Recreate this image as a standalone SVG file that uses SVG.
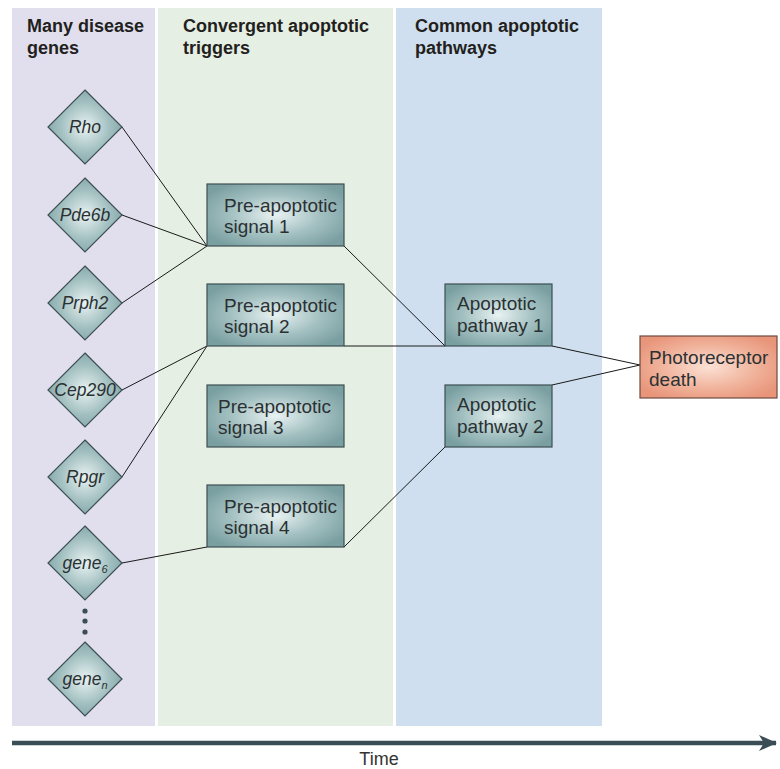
<svg xmlns="http://www.w3.org/2000/svg" width="780" height="769" viewBox="0 0 780 769">
<style>
.hdr{font-family:"Liberation Sans",Arial,sans-serif;font-weight:bold;font-size:18px;fill:#231f20}
.lbl{font-family:"Liberation Sans",Arial,sans-serif;font-size:19px;fill:#2b3133}
.gene{font-family:"Liberation Sans",Arial,sans-serif;font-style:italic;font-size:17.5px;fill:#2b3133;text-anchor:middle}
.node{fill:url(#teal);stroke:#3d4f52;stroke-width:1.2}
.death{fill:url(#salmon);stroke:#6e4a40;stroke-width:1.2}
.conn line{stroke:#1a1a1a;stroke-width:1}
</style>
<defs>
<radialGradient id="teal" cx="0.5" cy="0.5" r="0.6">
<stop offset="0" stop-color="#e9f2f2"/>
<stop offset="0.55" stop-color="#a3c0c1"/>
<stop offset="1" stop-color="#7a9fa1"/>
</radialGradient>
<radialGradient id="salmon" cx="0.5" cy="0.5" r="0.6">
<stop offset="0" stop-color="#fbe1d5"/>
<stop offset="0.6" stop-color="#f0b199"/>
<stop offset="1" stop-color="#e8957a"/>
</radialGradient>
<marker id="arr" markerWidth="18" markerHeight="16" refX="17" refY="8" orient="auto" markerUnits="userSpaceOnUse">
<path d="M0,0 L18,8 L0,16 L5,8 Z" fill="#3b4d55"/>
</marker>
</defs>

<g id="panels">
<rect x="12" y="8" width="143" height="718" fill="#e1dfee"/>
<rect x="158" y="8" width="235" height="718" fill="#e6efe3"/>
<rect x="396" y="8" width="206" height="718" fill="#cfdfef"/>
<text class="hdr" x="27" y="32">Many disease</text>
<text class="hdr" x="27" y="54">genes</text>
<text class="hdr" x="183" y="32">Convergent apoptotic</text>
<text class="hdr" x="183" y="54">triggers</text>
<text class="hdr" x="415" y="32">Common apoptotic</text>
<text class="hdr" x="415" y="54">pathways</text>
</g>

<g id="connectors" class="conn">
<line x1="122" y1="127" x2="207" y2="246"/>
<line x1="122" y1="215" x2="207" y2="246"/>
<line x1="122" y1="303" x2="207" y2="246"/>
<line x1="122" y1="390" x2="207" y2="346"/>
<line x1="122" y1="477" x2="207" y2="346"/>
<line x1="122" y1="563" x2="207" y2="547"/>
<line x1="344" y1="246" x2="445" y2="346"/>
<line x1="344" y1="346" x2="445" y2="346"/>
<line x1="344" y1="547" x2="445" y2="447"/>
<line x1="552" y1="346" x2="640" y2="365"/>
<line x1="552" y1="385" x2="640" y2="365"/>
</g>

<g id="gene-rho"><path class="node" d="M85,90 L122,127 L85,164 L48,127 Z"/><text class="gene" x="85" y="133">Rho</text></g>
<g id="gene-pde6b"><path class="node" d="M85,178 L122,215 L85,252 L48,215 Z"/><text class="gene" x="85" y="221">Pde6b</text></g>
<g id="gene-prph2"><path class="node" d="M85,266 L122,303 L85,340 L48,303 Z"/><text class="gene" x="85" y="309">Prph2</text></g>
<g id="gene-cep290"><path class="node" d="M85,353 L122,390 L85,427 L48,390 Z"/><text class="gene" x="85" y="396">Cep290</text></g>
<g id="gene-rpgr"><path class="node" d="M85,440 L122,477 L85,514 L48,477 Z"/><text class="gene" x="85" y="483">Rpgr</text></g>
<g id="gene-6"><path class="node" d="M85,526 L122,563 L85,600 L48,563 Z"/><text class="gene" x="85" y="569">gene<tspan font-size="11" dy="4">6</tspan></text></g>
<g id="dots" fill="#3b4d55"><circle cx="85" cy="611" r="2.6"/><circle cx="85" cy="621" r="2.6"/><circle cx="85" cy="632" r="2.6"/></g>
<g id="gene-n"><path class="node" d="M85,642 L122,679 L85,716 L48,679 Z"/><text class="gene" x="85" y="685">gene<tspan font-size="11" dy="4">n</tspan></text></g>

<g id="signal1"><rect class="node" x="207" y="184" width="137" height="62"/><text class="lbl" x="224" y="212">Pre-apoptotic</text><text class="lbl" x="224" y="233">signal 1</text></g>
<g id="signal2"><rect class="node" x="207" y="284" width="137" height="62"/><text class="lbl" x="224" y="312">Pre-apoptotic</text><text class="lbl" x="224" y="333">signal 2</text></g>
<g id="signal3"><rect class="node" x="207" y="385" width="137" height="62"/><text class="lbl" x="218" y="413">Pre-apoptotic</text><text class="lbl" x="218" y="434">signal 3</text></g>
<g id="signal4"><rect class="node" x="207" y="485" width="137" height="62"/><text class="lbl" x="224" y="513">Pre-apoptotic</text><text class="lbl" x="224" y="534">signal 4</text></g>

<g id="pathway1"><rect class="node" x="445" y="284" width="107" height="62"/><text class="lbl" x="457" y="310">Apoptotic</text><text class="lbl" x="457" y="332">pathway 1</text></g>
<g id="pathway2"><rect class="node" x="445" y="385" width="107" height="62"/><text class="lbl" x="457" y="411">Apoptotic</text><text class="lbl" x="457" y="433">pathway 2</text></g>

<g id="death"><rect class="death" x="640" y="336" width="137" height="62"/><text class="lbl" x="649" y="364">Photoreceptor</text><text class="lbl" x="649" y="386">death</text></g>

<g id="time">
<line x1="12" y1="743" x2="776" y2="743" stroke="#3b4d55" stroke-width="4.5" marker-end="url(#arr)"/>
<text x="379" y="765" text-anchor="middle" font-family="Liberation Sans, Arial, sans-serif" font-size="18" fill="#333">Time</text>
</g>
</svg>
